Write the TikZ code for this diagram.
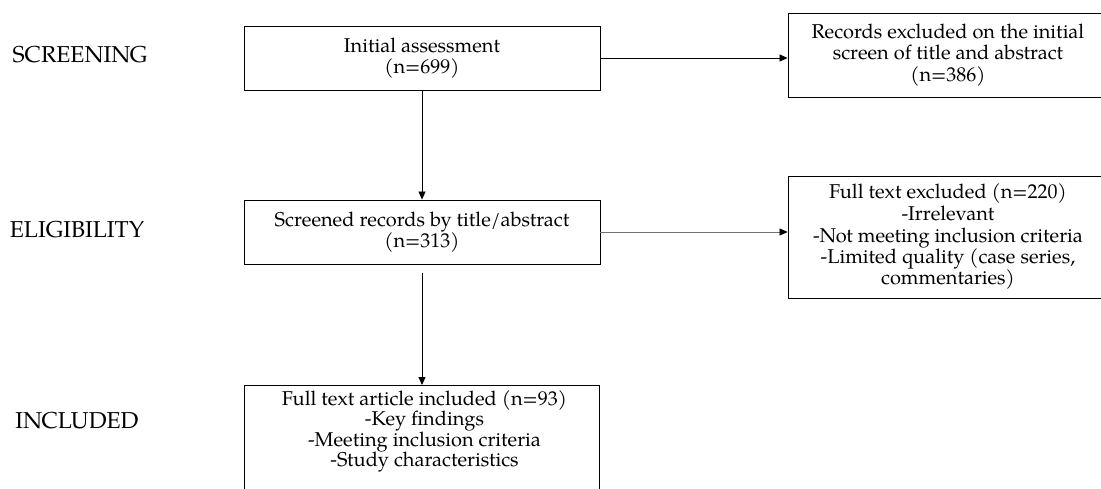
\documentclass[tikz,border=0pt]{standalone}
\usepackage{fontspec}
\setmainfont{TeX Gyre Pagella}
\usetikzlibrary{arrows.meta}
\begin{document}
\begin{tikzpicture}[x=1pt,y=-1pt,
  every node/.style={font=\fontsize{20}{21.5}\selectfont},
  box/.style={draw, line width=0.9pt, align=center, inner sep=0pt},
  txt/.style={align=center, inner sep=0pt},
  stage/.style={inner sep=0pt, font=\fontsize{23}{25}\selectfont},
  arr/.style={-{Triangle[length=8pt,width=7pt,color=black]}, line width=0.8pt}]
\useasboundingbox (0,0) rectangle (1101,489);
\clip (0,0) rectangle (1101,489);
% stage labels
\node[stage] (lscr) at (80,55) {SCREENING};
\node[stage] (lelig) at (77,230) {ELIGIBILITY};
\node[stage] (linc) at (77,421) {INCLUDED};
% boxes
\node[box, minimum width=356pt, minimum height=64pt] (ia) at (422,58) {Initial assessment\\(n=699)};
\node[box, minimum width=356pt, minimum height=64pt] (sr) at (422,232) {Screened records by title/abstract\\(n=313)};
\node[box, minimum width=320pt, minimum height=84pt] (rx1) at (948,55) {Records excluded on the initial\\screen of title and abstract\\(n=386)};
\node[box, minimum width=320pt, minimum height=122pt] (rx2) at (948,237) {Full text excluded (n=220)\\-Irrelevant\\-Not meeting inclusion criteria\\-Limited quality (case series,\\commentaries)};
\node[box, minimum width=355pt, minimum height=120pt, anchor=north] (incbox) at (421.5,385) {};
\node[txt, anchor=north, font=\fontsize{20}{20.5}\selectfont] (inc) at ([xshift=3pt,yshift=-5pt]incbox.north) {Full text article included (n=93)\\-Key findings\\-Meeting inclusion criteria\\-Study characteristics};
% connectors
\draw[arr] (ia.east) -- (rx1.west |- ia.east);
\draw[arr] (ia.south) -- (sr.north);
\draw[arr, draw=black!55] (sr.east) -- (rx2.west |- sr.east);
\draw[arr, shorten <=9pt] (sr.south) -- (sr.south |- incbox.north);
\end{tikzpicture}
\end{document}
